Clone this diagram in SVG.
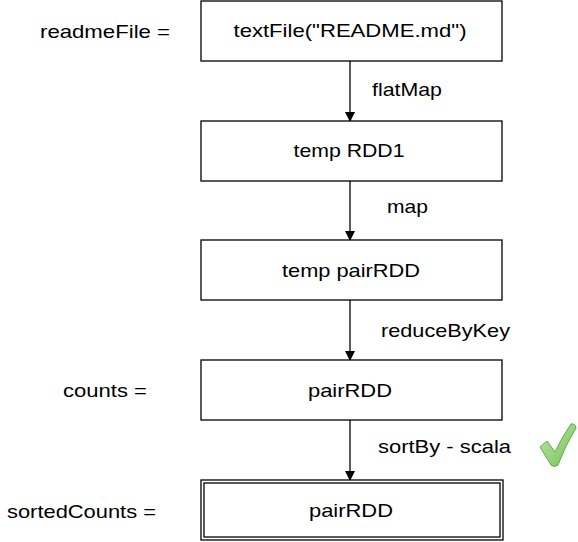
<svg xmlns="http://www.w3.org/2000/svg" width="578" height="542" viewBox="0 0 578 542">
<defs>
<style>
.box{fill:#fff;stroke:#000;stroke-width:1.3}
.t{font-family:"Liberation Sans",Arial,sans-serif;font-size:18.5px;fill:#000}
.c{text-anchor:middle}
.edge{stroke:#000;stroke-width:1.3;fill:none}
</style>
<marker id="ah" markerWidth="10" markerHeight="10" refX="9" refY="5" orient="auto" markerUnits="userSpaceOnUse">
<path d="M0,0 L10,5 L0,10 Z" fill="#000"/>
</marker>
<linearGradient id="g" x1="0" y1="0" x2="1" y2="1">
<stop offset="0" stop-color="#bfeaa8"/>
<stop offset="1" stop-color="#72bf55"/>
</linearGradient>
</defs>
<rect width="578" height="542" fill="#fff"/>
<g id="connectors">
<line class="edge" x1="350" y1="61" x2="350" y2="121" marker-end="url(#ah)"/>
<line class="edge" x1="350" y1="181" x2="350" y2="240" marker-end="url(#ah)"/>
<line class="edge" x1="350" y1="300" x2="350" y2="360" marker-end="url(#ah)"/>
<line class="edge" x1="350" y1="420" x2="350" y2="480" marker-end="url(#ah)"/>
<text class="t" x="372" y="96" textLength="70" lengthAdjust="spacingAndGlyphs">flatMap</text>
<text class="t" x="387" y="213" textLength="41" lengthAdjust="spacingAndGlyphs">map</text>
<text class="t" x="381" y="337" textLength="129" lengthAdjust="spacingAndGlyphs">reduceByKey</text>
<text class="t" x="378" y="453" textLength="133" lengthAdjust="spacingAndGlyphs">sortBy - scala</text>
</g>
<g id="n1">
<rect class="box" x="201" y="1" width="301" height="60"/>
<text class="t c" x="350" y="37" textLength="233" lengthAdjust="spacingAndGlyphs">textFile("README.md")</text>
</g>
<g id="n2">
<rect class="box" x="201" y="121" width="301" height="60"/>
<text class="t c" x="349" y="157" textLength="111" lengthAdjust="spacingAndGlyphs">temp RDD1</text>
</g>
<g id="n3">
<rect class="box" x="201" y="240" width="301" height="60"/>
<text class="t c" x="351" y="277" textLength="138" lengthAdjust="spacingAndGlyphs">temp pairRDD</text>
</g>
<g id="n4">
<rect class="box" x="201" y="360" width="301" height="60"/>
<text class="t c" x="350" y="397" textLength="84" lengthAdjust="spacingAndGlyphs">pairRDD</text>
</g>
<g id="n5">
<rect class="box" x="201" y="480" width="302" height="60"/>
<rect class="box" x="204" y="483" width="296" height="54"/>
<text class="t c" x="351" y="517" textLength="84" lengthAdjust="spacingAndGlyphs">pairRDD</text>
</g>
<g id="labels">
<text class="t" x="40" y="38" textLength="130" lengthAdjust="spacingAndGlyphs">readmeFile =</text>
<text class="t" x="63" y="397" textLength="84" lengthAdjust="spacingAndGlyphs">counts =</text>
<text class="t" x="7" y="518" textLength="149" lengthAdjust="spacingAndGlyphs">sortedCounts =</text>
</g>
<g id="check">
<path d="M540,447 L547,441 L555,452 Q562,437 571,424 Q575,423 576,428 Q565,446 558,465 Q554,468 551,465 Z" fill="url(#g)" stroke="#64a848" stroke-width="1"/>
</g>
</svg>
